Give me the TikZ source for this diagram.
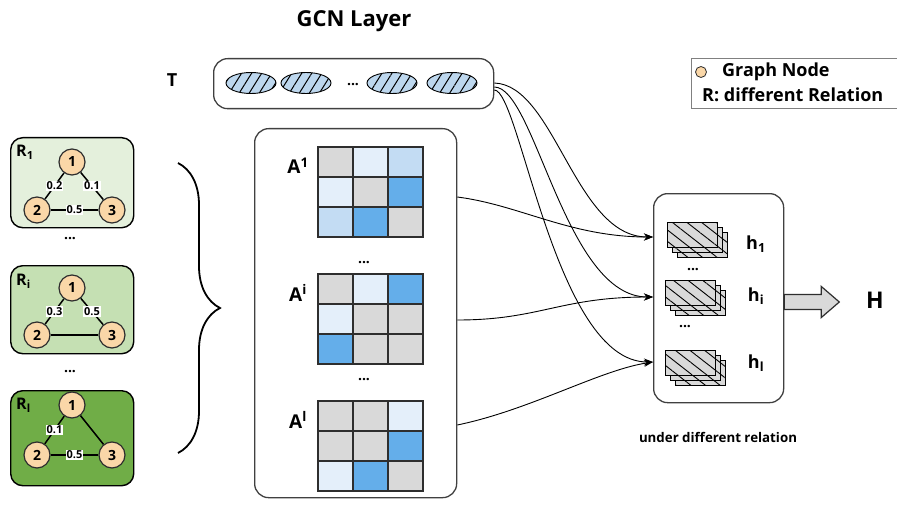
\documentclass[tikz,border=0pt]{standalone}
\usepackage{fontspec}
\setmainfont{Open Sans}
\usetikzlibrary{shapes.geometric,patterns.meta,decorations.pathreplacing,arrows.meta}
\definecolor{cg}{HTML}{D9D9D9}
\definecolor{cv}{HTML}{E4EFFA}
\definecolor{cl}{HTML}{C3DCF3}
\definecolor{cm}{HTML}{64AEEA}
\definecolor{mline}{HTML}{2E2E2E}
\definecolor{tokblue}{HTML}{BDD7EE}
\definecolor{peach}{HTML}{FAD7A8}
\definecolor{gA}{HTML}{E4F0DC}
\definecolor{gB}{HTML}{C5E0B3}
\definecolor{gC}{HTML}{70AD47}
\definecolor{boxline}{HTML}{404040}
\newcommand\adjmat[2]{%
  \foreach \col [count=\k from 0] in {#2} {%
    \pgfmathtruncatemacro\rr{floor(\k/3)}%
    \pgfmathtruncatemacro\cc{mod(\k,3)}%
    \filldraw[fill=\col, draw=mline, line width=1.3pt] (318+35*\cc, #1+30*\rr) rectangle ++(35,30);}}
\newcommand\hstack[2]{%
  \foreach \d in {10,5,0} {%
    \path[draw=black, line width=0.9pt, fill=cg,
      postaction={pattern={Lines[angle=-38,distance=9pt,line width=0.9pt]}, pattern color=black}]
      (#1+\d,#2+\d) rectangle ++(50,25);}}
\begin{document}
\begin{tikzpicture}[x=1pt,y=-1pt,
  bigbox/.style={draw=boxline, line width=1.3pt, rounded corners=14pt, anchor=north west, inner sep=0pt},
  relbox/.style={draw=black, line width=1.4pt, rounded corners=12pt, anchor=north west, inner sep=0pt, minimum width=123pt},
  gnode/.style={circle, draw=mline, line width=1.2pt, fill=peach, minimum size=26pt, inner sep=0pt, font=\fontsize{14}{14}\selectfont\bfseries},
  elab/.style={fill=white, inner sep=1pt, font=\fontsize{11}{11}\selectfont\bfseries},
  gedge/.style={line width=1.5pt, draw=black},
  tok/.style={ellipse, draw=black, line width=0.9pt, minimum width=50pt, minimum height=21pt, inner sep=0pt, fill=tokblue,
    postaction={pattern={Lines[angle=58,distance=8.5pt,line width=1pt]}, pattern color=black}},
  lbl/.style={font=\fontsize{18}{18}\selectfont\bfseries, inner sep=0pt},
  rl/.style={font=\fontsize{16}{16}\selectfont\bfseries, anchor=west, inner sep=0pt},
  al/.style={font=\fontsize{19}{19}\selectfont\bfseries, inner sep=0pt},
  dots/.style={font=\fontsize{14}{14}\selectfont\bfseries, inner sep=0pt},
  conn/.style={line width=0.9pt, -{Stealth[length=9pt,width=7pt]}}
]
\useasboundingbox (0,0) rectangle (897,508);
\fill[white] (0,0) rectangle (897,508);

% title
\node[font=\fontsize{22}{22}\selectfont\bfseries] (title) at (354,21) {GCN Layer};

% T box
\node[lbl] (tl) at (172,80) {T};
\node[bigbox, minimum width=280pt, minimum height=50pt] (tbox) at (213,58) {};
\node[tok] (t1) at (251,83) {};
\node[tok] (t2) at (306,83) {};
\node[dots] (tdots) at (353,85) {...};
\node[tok] (t3) at (392,83) {};
\node[tok] (t4) at (452,83) {};

% legend
\draw[gray, line width=0.8pt] (691,58) rectangle (905,108);
\node[circle, draw=mline, line width=0.8pt, fill=peach, minimum size=11pt, inner sep=0pt] (lg) at (701,72) {};
\node[font=\fontsize{18}{18}\selectfont\bfseries, anchor=west, inner sep=0pt] (lgt) at (722,72) {Graph Node};
\node[font=\fontsize{18}{18}\selectfont\bfseries, anchor=west, inner sep=0pt] (lrt) at (702,95) {R: different Relation};

% relation boxes
\node[relbox, fill=gA, minimum height=90pt] (R1) at (10,137) {};
\node[rl] (R1l) at (16,152) {R\textsubscript{1}};
\node[gnode] (a1) at (72,162) {1};
\node[gnode] (a2) at (37,210) {2};
\node[gnode] (a3) at (112,210) {3};
\draw[gedge] (a1) -- node[elab] {0.2} (a2);
\draw[gedge] (a1) -- node[elab] {0.1} (a3);
\draw[gedge] (a2) -- node[elab] {0.5} (a3);
\node[dots] (d1) at (70,239) {...};

\node[relbox, fill=gB, minimum height=88pt] (R2) at (10,265) {};
\node[rl] (R2l) at (16,281) {R\textsubscript{i}};
\node[gnode] (b1) at (72,288) {1};
\node[gnode] (b2) at (37,335) {2};
\node[gnode] (b3) at (112,335) {3};
\draw[gedge] (b1) -- node[elab] {0.3} (b2);
\draw[gedge] (b1) -- node[elab] {0.5} (b3);
\draw[gedge] (b2) -- (b3);
\node[dots] (d2) at (70,372) {...};

\node[relbox, fill=gC, minimum height=95pt] (R3) at (10,390) {};
\node[rl] (R3l) at (16,405) {R\textsubscript{l}};
\node[gnode] (c1) at (72,405) {1};
\node[gnode] (c2) at (37,455) {2};
\node[gnode] (c3) at (112,455) {3};
\draw[gedge] (c1) -- node[elab] {0.1} (c2);
\draw[gedge] (c1) -- (c3);
\draw[gedge] (c2) -- node[elab] {0.5} (c3);

% brace
\draw[decorate, decoration={brace, amplitude=42pt}, line width=1.8pt] (178,163) -- (178,453);

% matrix box
\node[bigbox, minimum width=202pt, minimum height=369pt] (abox) at (254,128) {};
\adjmat{147}{cg,cv,cl,cv,cg,cm,cl,cm,cg}
\node[al] (A1) at (298,166) {A\textsuperscript{1}};
\node[dots] (ad1) at (364,263) {...};
\adjmat{274}{cg,cv,cm,cv,cg,cg,cm,cg,cg}
\node[al] (A2) at (298,293) {A\textsuperscript{i}};
\node[dots] (ad2) at (364,380) {...};
\adjmat{401}{cg,cg,cv,cg,cg,cm,cv,cm,cg}
\node[al] (A3) at (298,420) {A\textsuperscript{l}};

% H box
\node[bigbox, minimum width=130pt, minimum height=209pt] (hbox) at (653,193) {};
\hstack{667}{222}
\hstack{665}{280}
\hstack{665}{350}
\node[dots] (hd1) at (693,270) {...};
\node[dots] (hd2) at (685,327) {...};
\node[lbl] (h1) at (756,244) {h\textsubscript{1}};
\node[lbl] (h2) at (756,296) {h\textsubscript{i}};
\node[lbl] (h3) at (756,363) {h\textsubscript{l}};
\node[font=\fontsize{13.3}{13.3}\selectfont\bfseries, inner sep=0pt] (under) at (718,437) {under different relation};

% connector endpoints
\coordinate (in1) at (hbox.west |- 0,237);
\coordinate (in2) at (hbox.west |- 0,297);
\coordinate (in3) at (hbox.west |- 0,362);
\coordinate (ts1) at (tbox.east |- 0,83);
\coordinate (ts2) at (tbox.east |- 0,87);
\coordinate (ts3) at (tbox.east |- 0,90);
\coordinate (as1) at (abox.east |- 0,197);
\coordinate (as2) at (abox.east |- 0,320);
\coordinate (as3) at (abox.east |- 0,425);

\draw[conn] (ts1) .. controls (555,85) and (575,237) .. (in1);
\draw[conn] (ts2) .. controls (535,87) and (565,297) .. (in2);
\draw[conn] (ts3) .. controls (520,90) and (555,362) .. (in3);
\draw[conn] (as1) .. controls (520,205) and (570,237) .. (in1);
\draw[conn] (as2) .. controls (540,320) and (560,297) .. (in2);
\draw[conn] (as3) .. controls (530,410) and (600,370) .. (in3);

% output arrow
\coordinate (ho) at (hbox.east |- 0,302);
\filldraw[fill=cg, draw=mline, line width=1.2pt] (ho) ++(0,-7.5) -- ++(37,0) -- ++(0,-8) -- ++(18,15.5) -- ++(-18,15.5) -- ++(0,-8) -- ++(-37,0) -- cycle;
\node[font=\fontsize{23}{23}\selectfont\bfseries, inner sep=0pt] (H) at (875,300) {H};
\end{tikzpicture}
\end{document}
